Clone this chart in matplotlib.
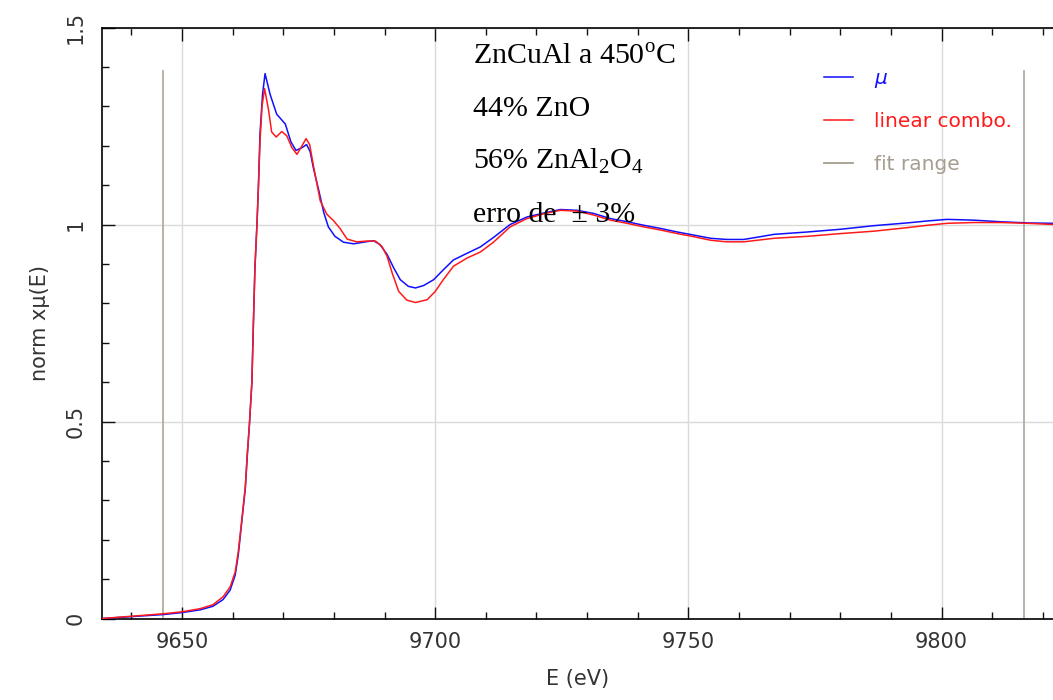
import matplotlib
matplotlib.use("Agg")
import matplotlib.pyplot as plt
from matplotlib.ticker import MultipleLocator, FixedLocator
from matplotlib.lines import Line2D

# energy grid (eV) and normalized absorption
mu_E = [9634.2, 9640.3, 9646.3, 9650, 9653.6, 9656.1, 9658.1, 9659.5, 9660.5, 9661.1,
        9661.8, 9662.5, 9662.9, 9663.3, 9663.8, 9664.1, 9664.4, 9664.8, 9665.1, 9665.4,
        9665.9, 9666.4, 9667.4, 9668.7, 9670.4, 9671.5, 9672.5, 9673.7, 9674.6, 9675.3,
        9676, 9677, 9678, 9678.9, 9680.2, 9681.9, 9683.9, 9685.8, 9687.8, 9689.1,
        9690.5, 9691.8, 9693.1, 9694.7, 9696.1, 9697.7, 9699.7, 9701.6, 9703.6, 9706.3,
        9708.9, 9711.5, 9714.8, 9718.1, 9721.4, 9724.7, 9728, 9731.3, 9734.6, 9737.9,
        9741.2, 9744.5, 9747.8, 9751.1, 9754.4, 9757.6, 9760.9, 9764.2, 9766.9, 9773.5,
        9780.1, 9786.6, 9793.2, 9797.2, 9801.1, 9806.4, 9811.6, 9817, 9822]
mu = [0.0, 0.005, 0.01, 0.015, 0.022, 0.031, 0.048, 0.072, 0.11, 0.16,
      0.245, 0.33, 0.415, 0.49, 0.60, 0.75, 0.89, 1.0, 1.10, 1.23,
      1.33, 1.383, 1.33, 1.28, 1.255, 1.21, 1.188, 1.195, 1.203, 1.185,
      1.14, 1.087, 1.03, 0.994, 0.97, 0.955, 0.951, 0.955, 0.959, 0.949,
      0.924, 0.89, 0.86, 0.843, 0.839, 0.845, 0.86, 0.885, 0.91, 0.927,
      0.943, 0.967, 1.0, 1.019, 1.029, 1.038, 1.036, 1.028, 1.015, 1.007,
      0.998, 0.99, 0.981, 0.973, 0.965, 0.962, 0.962, 0.969, 0.975, 0.981,
      0.988, 0.997, 1.004, 1.009, 1.013, 1.011, 1.007, 1.004, 1.003]

combo_E = [9634.2, 9640.3, 9646.3, 9650, 9653.6, 9656.1, 9658.1, 9659.5, 9660.5, 9661.1,
           9661.8, 9662.5, 9662.9, 9663.3, 9663.8, 9664.1, 9664.4, 9664.8, 9665.1, 9665.4,
           9665.8, 9666.3, 9667.1, 9667.7, 9668.6, 9669.7, 9670.7, 9671.7, 9672.7, 9673.7,
           9674.5, 9675.2, 9676, 9677.3, 9678.6, 9679.9, 9681.2, 9682.6, 9684.5, 9686.5,
           9688.2, 9689.5, 9690.5, 9691.5, 9692.8, 9694.4, 9696.1, 9698.4, 9700, 9701.6,
           9703.6, 9706.3, 9708.9, 9711.5, 9714.8, 9718.1, 9721.4, 9724.7, 9728, 9731.3,
           9734.6, 9737.9, 9741.2, 9744.5, 9747.8, 9751.1, 9754.4, 9757.6, 9760.9, 9766.9,
           9773.5, 9780.1, 9786.6, 9793.2, 9797.2, 9801.1, 9806.4, 9811.6, 9817, 9822]
combo = [0.0, 0.006, 0.012, 0.017, 0.025, 0.035, 0.055, 0.08, 0.118, 0.168,
         0.25, 0.335, 0.42, 0.49, 0.60, 0.75, 0.89, 1.0, 1.10, 1.21,
         1.30, 1.345, 1.29, 1.235, 1.222, 1.236, 1.225, 1.195, 1.178, 1.2,
         1.218, 1.203, 1.146, 1.06, 1.026, 1.01, 0.99, 0.963, 0.956, 0.958,
         0.958, 0.944, 0.919, 0.877, 0.83, 0.808, 0.802, 0.809, 0.83, 0.86,
         0.894, 0.915, 0.93, 0.955, 0.994, 1.015, 1.027, 1.036, 1.034, 1.024,
         1.011, 1.003, 0.994, 0.986, 0.977, 0.969, 0.96, 0.956, 0.956, 0.965,
         0.97, 0.977, 0.983, 0.992, 0.998, 1.003, 1.005, 1.005, 1.003, 1.0]

fit_range = [9646.3, 9816.2]
fit_top = 1.39

notes = ["ZnCuAl a 450$^{\\mathregular{o}}$C", "44% ZnO",
         "56% ZnAl$_{\\mathregular{2}}$O$_{\\mathregular{4}}$", "erro de  \u00b1 3%"]
note_y = [1.405, 1.275, 1.141, 1.006]

plt.rcParams["mathtext.fontset"] = "custom"
plt.rcParams["mathtext.rm"] = "Liberation Serif"
plt.rcParams["mathtext.it"] = "DejaVu Sans:italic"

W, H = 1053, 700
fig = plt.figure(figsize=(W / 100, H / 100), dpi=100)
ax = fig.add_axes([102 / W, (H - 618.5) / H, (W - 102) / W, 591 / H])

for e in fit_range:
    ax.plot([e, e], [0, fit_top], color="#b3ab9e", lw=1.3, zorder=2)
ax.plot(mu_E, mu, color="#1010ff", lw=1.1, zorder=3)
ax.plot(combo_E, combo, color="#ff1a1a", lw=1.1, zorder=4)

ax.set_xlim(9634.2, 9822)
ax.set_ylim(0, 1.5)

ax.xaxis.set_major_locator(FixedLocator([9650, 9700, 9750, 9800]))
ax.xaxis.set_minor_locator(MultipleLocator(10))
ax.yaxis.set_major_locator(FixedLocator([0, 0.5, 1, 1.5]))
ax.yaxis.set_minor_locator(MultipleLocator(0.1))
ax.set_yticklabels(["0", "0.5", "1", "1.5"])
ax.grid(True, which="major", color="#d9d9d9", lw=1)
ax.set_axisbelow(True)

ax.tick_params(which="both", direction="in", top=True, right=False, colors="#111111")
ax.tick_params(which="major", length=9, width=1)
ax.tick_params(which="minor", length=5, width=1)
ax.tick_params(axis="x", labelsize=15, pad=10, labelcolor="#333333")
ax.tick_params(axis="y", labelsize=15, pad=12, labelrotation=90, labelcolor="#333333")
for lab in ax.get_yticklabels():
    lab.set_va("center")
ax.spines["right"].set_visible(False)
for s in ["left", "bottom", "top"]:
    ax.spines[s].set_linewidth(1.2)

ax.set_xlabel("E (eV)", fontsize=15, color="#333333", labelpad=12)
ax.set_ylabel("norm x\u03bc(E)", fontsize=15, color="#333333", labelpad=11)

for txt, y in zip(notes, note_y):
    ax.text(9707.5, y, txt, fontsize=21.5, family="Liberation Serif", va="baseline", zorder=5)

handles = [Line2D([], [], color="#1010ff", lw=1.1),
           Line2D([], [], color="#ff1a1a", lw=1.1),
           Line2D([], [], color="#a59d8f", lw=1.3)]
leg = ax.legend(handles, ["\u03bc", "linear combo.", "fit range"], loc="upper left",
                bbox_to_anchor=((806 - 102) / (W - 102), (618.5 - 51) / 591),
                frameon=False, fontsize=14.5, handlelength=1.44, handletextpad=1.05,
                labelspacing=1.2)
for t, c in zip(leg.get_texts(), ["#1010ff", "#ff1a1a", "#a59d8f"]):
    t.set_color(c)
leg.get_texts()[0].set_fontstyle("italic")

fig.savefig("out.png", dpi=100)
